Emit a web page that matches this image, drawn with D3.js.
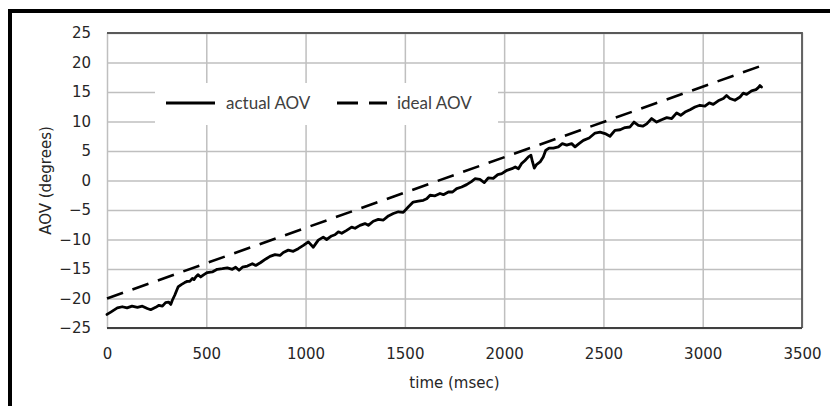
<!DOCTYPE html>
<html><head><meta charset="utf-8">
<script src="https://cdn.jsdelivr.net/npm/d3@7"></script>
<style>html,body{margin:0;padding:0;background:#fff;overflow:hidden;}svg{display:block;}</style>
</head><body>
<svg id="c" width="830" height="406"></svg>
<script>
const xTicks = [0, 500, 1000, 1500, 2000, 2500, 3000, 3500];
const yTicks = [-25, -20, -15, -10, -5, 0, 5, 10, 15, 20, 25];
const seriesNames = ["actual AOV", "ideal AOV"];
const idealTime = [0, 3296];
const idealAOV = [-20, 19.45];
const actualTime = [0,19,52,77,101,126,153,178,203,220,245,262,279,295,310,321,329,341,358,374,391,404,417,430,438,447,458,472,488,505,530,555,581,606,631,648,665,682,707,732,749,774,800,821,846,871,888,913,938,963,989,1014,1039,1064,1089,1106,1131,1148,1165,1182,1207,1232,1249,1274,1299,1316,1341,1366,1392,1417,1442,1467,1492,1517,1542,1568,1593,1610,1627,1652,1677,1694,1719,1740,1761,1786,1811,1837,1853,1878,1900,1920,1945,1968,1988,2014,2039,2056,2072,2088,2105,2122,2135,2143,2152,2163,2181,2197,2209,2226,2248,2273,2293,2315,2340,2357,2377,2399,2428,2458,2483,2508,2533,2558,2584,2609,2634,2654,2676,2698,2718,2743,2768,2793,2819,2844,2869,2889,2911,2936,2961,2986,3011,3033,3053,3078,3104,3120,3137,3162,3188,3204,3221,3246,3268,3280,3288,3296];
const actualAOV = [-22.7,-22.3,-21.6,-21.4,-21.6,-21.3,-21.5,-21.3,-21.7,-21.9,-21.5,-21.15,-21.3,-20.7,-20.6,-21.0,-20.3,-19.45,-18.05,-17.65,-17.3,-17.1,-17.1,-16.6,-16.8,-16.35,-15.95,-16.35,-15.95,-15.6,-15.5,-15.05,-14.95,-14.8,-15.05,-14.7,-15.2,-14.7,-14.5,-14.1,-14.4,-13.9,-13.3,-12.85,-12.56,-12.7,-12.2,-11.8,-12.0,-11.55,-11.0,-10.4,-11.3,-10.1,-9.6,-10.0,-9.4,-9.2,-8.7,-8.95,-8.45,-7.9,-8.1,-7.6,-7.3,-7.6,-6.9,-6.6,-6.7,-6.0,-5.6,-5.3,-5.4,-4.5,-3.65,-3.5,-3.35,-3.1,-2.5,-2.6,-2.2,-2.4,-1.95,-1.95,-1.37,-1.1,-0.7,-0.14,0.3,0.2,-0.35,0.43,0.35,1.0,1.17,1.73,2.0,2.3,2.0,2.87,3.4,4.0,4.27,3.14,2.1,2.7,3.14,4.0,5.1,5.5,5.5,5.7,6.25,6.0,6.25,5.7,6.25,6.8,7.2,8.05,8.2,7.95,7.5,8.5,8.6,8.97,9.07,9.9,9.35,9.2,9.6,10.5,9.9,10.3,10.65,10.5,11.45,11.05,11.6,12.0,12.45,12.75,12.6,13.15,12.9,13.5,13.9,14.4,13.9,13.6,14.15,14.8,14.6,15.2,15.4,15.75,16.1,15.85];
const xTitle = "time (msec)";
const yTitle = "AOV (degrees)";

const svg = d3.select("#c");
const L = 107, R = 802, T = 33, B = 328;
const x = d3.scaleLinear().domain([0, 3500]).range([L, R]);
const y = d3.scaleLinear().domain([-25, 25]).range([B, T]);
const font = "'DejaVu Sans', Verdana, sans-serif";
const txt = "#262626";

// outer frame (thick black, only left & top visible)
svg.append("path").attr("d", "M10,406V11H830").attr("fill", "none")
  .attr("stroke", "#000").attr("stroke-width", 4);

// gridlines via axes
svg.append("g").attr("transform", `translate(0,${B})`)
  .call(d3.axisBottom(x).tickValues(xTicks).tickSize(-(B - T)).tickFormat(""))
  .call(g => g.select(".domain").remove())
  .call(g => g.selectAll("line").attr("stroke", "#bfbfbf").attr("stroke-width", 1.5));
svg.append("g").attr("transform", `translate(${L},0)`)
  .call(d3.axisLeft(y).tickValues(yTicks).tickSize(-(R - L)).tickFormat(""))
  .call(g => g.select(".domain").remove())
  .call(g => g.selectAll("line").attr("stroke", "#bfbfbf").attr("stroke-width", 1.5));

// plot border top/right and bottom axis line
svg.append("path").attr("d", `M${L},${T}H${R}V${B}`).attr("fill", "none")
  .attr("stroke", "#595959").attr("stroke-width", 1.8);
svg.append("line").attr("x1", L).attr("x2", R).attr("y1", B).attr("y2", B)
  .attr("stroke", "#404040").attr("stroke-width", 2);

// tick labels
svg.append("g").attr("transform", `translate(0,${B})`)
  .call(d3.axisBottom(x).tickValues(xTicks).tickSize(0).tickPadding(20).tickFormat(d3.format("d")))
  .call(g => g.select(".domain").remove())
  .call(g => g.selectAll("text").attr("font-family", font).attr("font-size", 15).attr("fill", txt));
svg.append("g").attr("transform", `translate(${L},0)`)
  .call(d3.axisLeft(y).tickValues(yTicks).tickSize(0).tickPadding(16).tickFormat(d3.format("d")))
  .call(g => g.select(".domain").remove())
  .call(g => g.selectAll("text").attr("font-family", font).attr("font-size", 15).attr("fill", txt));

// axis titles
svg.append("text").attr("x", (L + R) / 2).attr("y", 388).attr("text-anchor", "middle")
  .attr("font-family", font).attr("font-size", 15).attr("fill", txt).text(xTitle);
svg.append("text").attr("transform", `translate(51,${(T + B) / 2}) rotate(-90)`).attr("text-anchor", "middle")
  .attr("font-family", font).attr("font-size", 15).attr("fill", txt).text(yTitle);

// legend background
svg.append("rect").attr("x", 155).attr("y", 83).attr("width", 343).attr("height", 42).attr("fill", "#fff");

const line = d3.line().x(d => x(d[0])).y(d => y(d[1]));
const actual = actualTime.map((t, i) => [t, actualAOV[i]]);
const ideal = idealTime.map((t, i) => [t, idealAOV[i]]);
const dash = "17,10";

svg.append("path").datum(ideal).attr("d", line).attr("fill", "none")
  .attr("stroke", "#000").attr("stroke-width", 2.6).attr("stroke-dasharray", dash);
svg.append("path").datum(actual).attr("d", line).attr("fill", "none")
  .attr("stroke", "#000").attr("stroke-width", 2.8).attr("stroke-linejoin", "round").attr("stroke-linecap", "round");

// legend
const lg = svg.append("g");
const lfont = "Lato, 'Open Sans', sans-serif";
lg.append("line").attr("x1", 166).attr("x2", 215).attr("y1", 103).attr("y2", 103)
  .attr("stroke", "#000").attr("stroke-width", 2.8);
lg.append("text").attr("x", 226).attr("y", 103).attr("dy", "0.35em").attr("font-family", lfont)
  .attr("font-size", 17).attr("fill", "#404040").text(seriesNames[0]);
lg.append("line").attr("x1", 337).attr("x2", 387).attr("y1", 103).attr("y2", 103)
  .attr("stroke", "#000").attr("stroke-width", 2.8).attr("stroke-dasharray", "21,11");
lg.append("text").attr("x", 397).attr("y", 103).attr("dy", "0.35em").attr("font-family", lfont)
  .attr("font-size", 17).attr("fill", "#404040").text(seriesNames[1]);
</script>
</body></html>
